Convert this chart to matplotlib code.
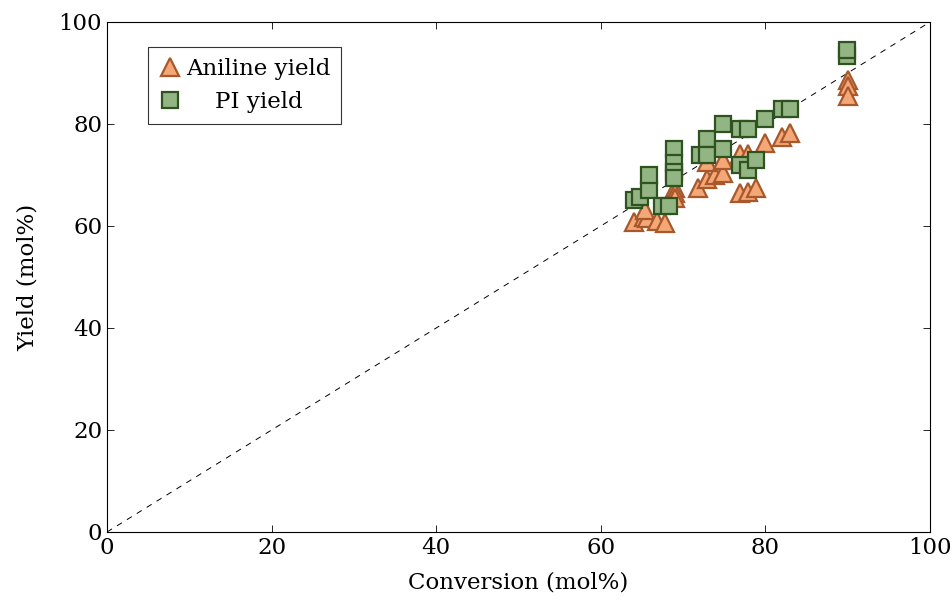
import numpy as np
import matplotlib.pyplot as plt

plt.rcParams['font.family'] = ['DejaVu Serif']

# Aniline yield (triangles)
anil_conv = [64, 65.2, 65.6, 65.4, 66.8, 67.8, 69, 69, 69, 71.8, 72.9, 73.9, 74.9,
             72.9, 74.9, 76.9, 77.9, 76.9, 77.9, 78.9, 80, 82, 83, 90, 90, 90]
anil_yield = [60.7, 61.8, 61.5, 63.1, 60.9, 60.5, 67.4, 66.5, 65.4, 67.4, 69.3, 70, 70.3,
              72.6, 73, 74.2, 74.2, 66.4, 66.7, 67.4, 76.2, 77.5, 78.2, 88.6, 87.5, 85.5]

# PI yield (squares)
pi_conv = [64, 64.8, 65.9, 65.9, 67.4, 68.3, 68.9, 68.9, 68.9, 68.9, 72, 72.9, 72.9,
           74.9, 74.9, 76.9, 77.9, 76.9, 77.9, 78.9, 80, 82, 83, 89.9, 89.9]
pi_yield = [65, 65.7, 67, 70, 63.9, 64, 75, 72.3, 70.5, 69.5, 74, 77, 74,
            80, 75, 79, 79, 72, 71, 73, 81, 83, 83, 93.3, 94.6]

fig = plt.figure(figsize=(9.53, 6.02), dpi=100)
ax = fig.add_axes([0.1123, 0.1163, 0.8636, 0.8472])

ax.plot([0, 100], [0, 100], color='black', linestyle=(0, (6, 6)), linewidth=0.7, zorder=1)
ax.plot(anil_conv, anil_yield, linestyle='none', marker='^', markersize=13,
        markerfacecolor='#F4A878', markeredgecolor='#A8582A', markeredgewidth=1.6,
        label='Aniline yield', zorder=2)
ax.plot(pi_conv, pi_yield, linestyle='none', marker='s', markersize=11,
        markerfacecolor='#93B483', markeredgecolor='#2E5320', markeredgewidth=1.6,
        label='    PI yield', zorder=3)

ax.set_xlim(0, 100)
ax.set_ylim(0, 100)
ax.set_xticks(np.arange(0, 101, 20))
ax.set_yticks(np.arange(0, 101, 20))
ax.tick_params(direction='in', top=True, right=True, labelsize=16.5, length=5, width=0.6)
for s in ax.spines.values():
    s.set_linewidth(0.8)
ax.set_xlabel('Conversion (mol%)', fontsize=16.5, labelpad=9)
ax.set_ylabel('Yield (mol%)', fontsize=16.5, labelpad=14)

leg = ax.legend(loc='upper left', bbox_to_anchor=(0.05, 0.95), fontsize=16.5,
                frameon=True, fancybox=False, edgecolor='black', handlelength=1.0,
                handletextpad=0.2, borderpad=0.45, labelspacing=0.5, borderaxespad=0)
leg.get_frame().set_linewidth(0.8)

fig.savefig('out.png', dpi=100)
